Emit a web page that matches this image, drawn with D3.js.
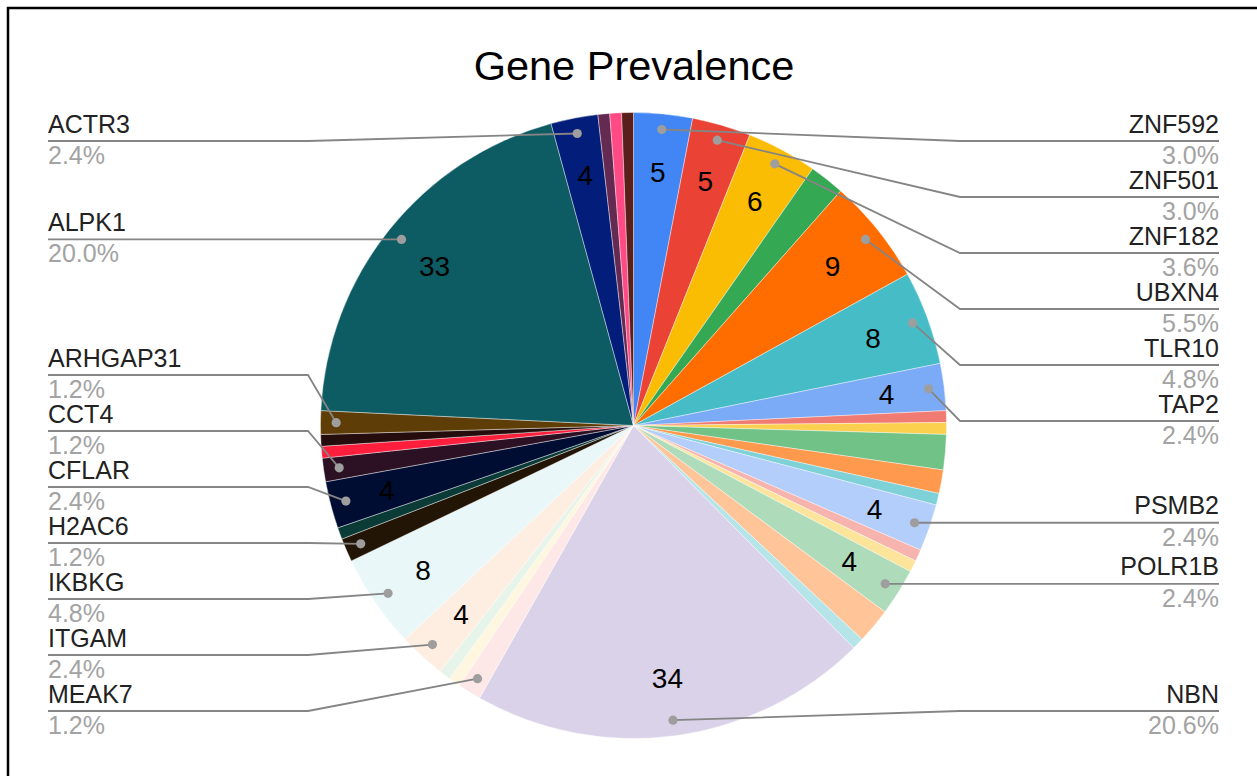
<!DOCTYPE html>
<html>
<head>
<meta charset="utf-8">
<script src="https://cdn.jsdelivr.net/npm/d3@7"></script>
<style>
  body { margin: 0; background: #fff; }
  svg { display: block; font-family: "Liberation Sans", Arial, Helvetica, sans-serif; }
</style>
</head>
<body>
<svg id="chart" width="1257" height="776"></svg>
<script>
// Slices clockwise from 12 o'clock; null = slice drawn without a callout label
const genes = [
  "ZNF592", "ZNF501", "ZNF182", null, "UBXN4", "TLR10", "TAP2",
  null, null, null, null, null,
  "PSMB2", null, null, "POLR1B", null, null,
  "NBN", "MEAK7", null, null, "ITGAM", "IKBKG",
  "H2AC6", null, "CFLAR", "CCT4", null, null, "ARHGAP31",
  "ALPK1", "ACTR3", null, null, null
];
const counts = [
  5, 5, 6, 3, 9, 8, 4,
  1, 1, 3, 2, 1,
  4, 1, 1, 4, 3, 1,
  34, 2, 1, 1, 4, 8,
  2, 1, 4, 2, 1, 1, 2,
  33, 4, 1, 1, 1
];
const sliceColors = [
  "#4285f4", "#ea4335", "#fbbc04", "#34a853", "#ff6d01", "#46bdc6", "#7baaf7",
  "#f07b72", "#fcd04f", "#71c287", "#ff994d", "#7ed1d7",
  "#b3cefb", "#f7b4ae", "#fde49b", "#aedcba", "#ffc599", "#b5e5e8",
  "#d9d2e9", "#fde8e7", "#fef6df", "#e6f4ea", "#feeee2", "#e9f7f8",
  "#231505", "#0b3b36", "#000d33", "#2c1125", "#ff1f3d", "#260d0d", "#5e3d07",
  "#0d5c63", "#031d7a", "#652a52", "#ff4a86", "#5a1f1b"
];
const chartTitle = "Gene Prevalence";

const W = 1257, H = 776;
const cx = 633.5, cy = 425.5, radius = 313;
const svg = d3.select("#chart");

// outer frame (top and left edges)
svg.append("path")
  .attr("d", `M8,${H}V8H${W}`)
  .attr("fill", "none")
  .attr("stroke", "#000")
  .attr("stroke-width", 2.5);

svg.append("text")
  .attr("x", 634).attr("y", 80)
  .attr("text-anchor", "middle")
  .attr("font-size", 41.5)
  .attr("fill", "#000")
  .text(chartTitle);

const rows = counts.map((v, i) => ({ gene: genes[i], value: v, color: sliceColors[i] }));
const total = d3.sum(counts);
const pie = d3.pie().value(d => d.value).sort(null);
const arcs = pie(rows);
const arc = d3.arc().innerRadius(0).outerRadius(radius);
const valueArc = d3.arc().innerRadius(radius * 0.815).outerRadius(radius * 0.815);
const markerArc = d3.arc().innerRadius(radius * 0.95).outerRadius(radius * 0.95);

const g = svg.append("g").attr("transform", `translate(${cx},${cy})`);

g.selectAll("path.slice").data(arcs).join("path")
  .attr("class", "slice")
  .attr("d", arc)
  .attr("fill", d => d.data.color)
  .attr("stroke", "#fff")
  .attr("stroke-width", 0.4);

// counts written inside the larger slices
g.selectAll("text.val").data(arcs.filter(d => d.data.value >= 4)).join("text")
  .attr("class", "val")
  .attr("transform", d => `translate(${valueArc.centroid(d)})`)
  .attr("text-anchor", "middle")
  .attr("dy", "0.36em")
  .attr("font-size", 28)
  .attr("fill", "#000")
  .text(d => d.value);

// callout layout: labels stacked on each side, kept apart by a fixed gap
const labelGap = 56, labelTop = 141, labelBottom = 711;
function spread(items) {
  items.sort((a, b) => a.want - b.want);
  const clusters = [];
  const place = c => {
    const n = c.items.length;
    let t = c.sum / n - (n - 1) * labelGap / 2;
    t = Math.max(labelTop, t);
    t = Math.min(labelBottom - (n - 1) * labelGap, t);
    c.top = t;
  };
  for (const it of items) {
    const c = { items: [it], sum: it.want };
    place(c);
    clusters.push(c);
    while (clusters.length > 1) {
      const b = clusters[clusters.length - 1], a = clusters[clusters.length - 2];
      if (a.top + a.items.length * labelGap > b.top) {
        a.items = a.items.concat(b.items);
        a.sum += b.sum;
        clusters.pop();
        place(a);
      } else break;
    }
  }
  clusters.forEach(c => c.items.forEach((it, k) => it.ly = c.top + k * labelGap));
}

const callouts = arcs.filter(d => d.data.gene).map(d => {
  const [mx, my] = markerArc.centroid(d);
  const mid = (d.startAngle + d.endAngle) / 2;
  return { d, mx: mx + cx, my: my + cy, want: my + cy, right: mid < Math.PI };
});
spread(callouts.filter(c => c.right));
spread(callouts.filter(c => !c.right));

const fmtPct = v => (v / total * 100).toFixed(1) + "%";
const lab = svg.append("g");
callouts.forEach(c => {
  const elbowX = c.right ? 960 : 308;
  const endX = c.right ? 1219 : 48;
  lab.append("path")
    .attr("d", `M${c.mx},${c.my}L${elbowX},${c.ly}H${endX}`)
    .attr("fill", "none")
    .attr("stroke", "#858585")
    .attr("stroke-width", 1.8);
  lab.append("circle")
    .attr("cx", c.mx).attr("cy", c.my).attr("r", 4.6)
    .attr("fill", "#9e9e9e");
  const anchor = c.right ? "end" : "start";
  lab.append("text")
    .attr("x", endX).attr("y", c.ly - 8.5)
    .attr("text-anchor", anchor)
    .attr("font-size", 25)
    .attr("fill", "#222")
    .text(c.d.data.gene);
  lab.append("text")
    .attr("x", endX).attr("y", c.ly + 23)
    .attr("text-anchor", anchor)
    .attr("font-size", 25)
    .attr("fill", "#a3a3a3")
    .text(fmtPct(c.d.data.value));
});
</script>
</body>
</html>
